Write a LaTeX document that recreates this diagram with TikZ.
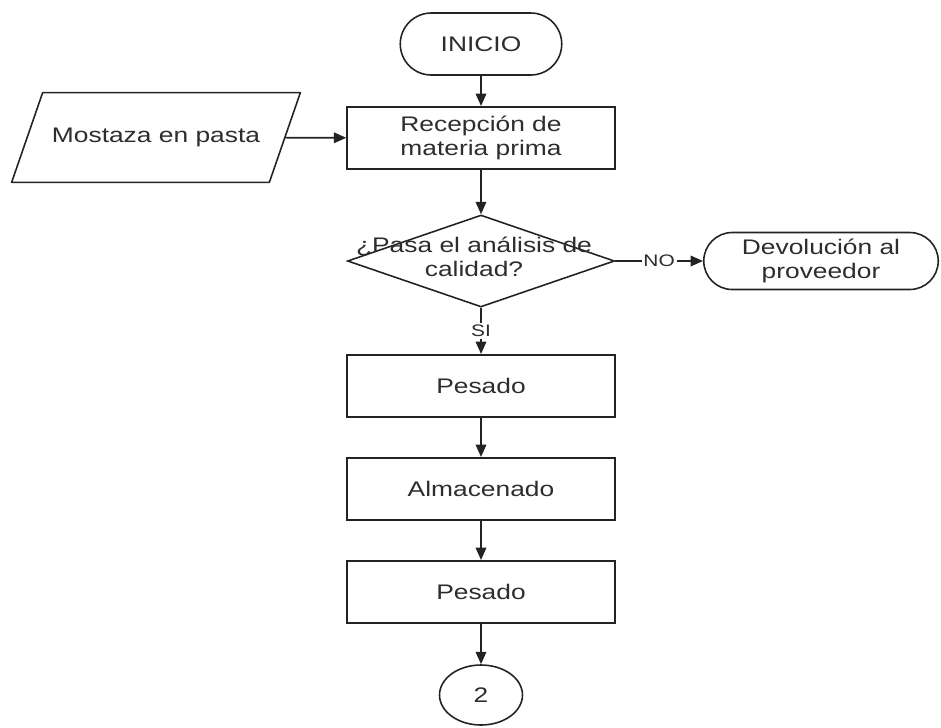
\documentclass[tikz,border=0pt]{standalone}
\usepackage{fontspec}
\setmainfont{Liberation Sans}[FakeStretch=1.25]
\usepackage{tikz}
\usetikzlibrary{arrows.meta,shapes.geometric,shapes.misc,positioning}
\definecolor{trazo}{RGB}{35,35,35}
\definecolor{texto}{RGB}{45,45,45}

\begin{document}
\begin{tikzpicture}[
  proc/.style={draw=trazo, line width=0.9pt, minimum width=5.36cm,
    minimum height=1.25cm, align=center, text=texto,
    font=\fontsize{12}{13.8}\selectfont},
  term/.style={draw=trazo, line width=0.9pt, rounded rectangle, inner sep=1pt,
    align=center, text=texto, font=\fontsize{12}{13.8}\selectfont},
  entrada/.style={minimum width=5.14cm, minimum height=1.78cm,
    text=texto, font=\fontsize{12}{13.8}\selectfont},
  borde/.style={line width=0.9pt, trazo, line join=round},
  decision/.style={draw=trazo, line width=0.9pt, diamond, inner sep=0pt,
    minimum width=5.34cm, minimum height=1.84cm},
  conector/.style={draw=trazo, line width=0.9pt, ellipse, minimum width=1.66cm,
    minimum height=1.2cm, text=texto, font=\fontsize{12}{13.8}\selectfont},
  arr/.style={-{Triangle[length=7pt,width=6pt]}, line width=0.9pt, trazo},
  etiq/.style={fill=white, inner sep=1pt, text=texto,
    font=\fontsize{9.5}{10}\selectfont}
]
  \useasboundingbox (0,0) rectangle (18.82,-14.54);

  % Main column
  \node[term, minimum width=3.3cm, minimum height=1.24cm] (inicio) at (9.62,-0.88) {INICIO};
  \node[proc] (recep) at (9.62,-2.76) {Recepción de\\materia prima};
  \node[decision] (calidad) at (9.62,-5.22) {};
  \node[align=center, text=texto, font=\fontsize{12}{13.8}\selectfont]
    (calidadtxt) at (9.48,-5.14) {¿Pasa el análisis de\\calidad?};
  \node[term, minimum width=4.76cm, minimum height=1.14cm] (devol) at (16.42,-5.22)
    {Devolución al\\proveedor};
  \node[proc] (pesado1) at (9.62,-7.72) {Pesado};
  \node[proc] (almacen) at (9.62,-9.78) {Almacenado};
  \node[proc] (pesado2) at (9.62,-11.84) {Pesado};
  \node[conector] (pag2) at (9.62,-13.9) {2};

  % Input (parallelogram)
  \node[entrada] (mostaza) at (3.12,-2.75) {Mostaza en pasta};
  \draw[borde] ([xshift=-0.31cm]mostaza.south west) -- ([xshift=0.31cm]mostaza.north west)
    -- ([xshift=0.31cm]mostaza.north east) -- ([xshift=-0.31cm]mostaza.south east) -- cycle;

  % Flow
  \draw[arr] (inicio) -- (recep);
  \draw[arr] (mostaza) -- (recep);
  \draw[arr] (recep) -- (calidad);
  \draw[arr] (calidad) -- node[etiq] {NO} (devol);
  \draw[arr] (calidad) -- node[etiq] {SI} (pesado1);
  \draw[arr] (pesado1) -- (almacen);
  \draw[arr] (almacen) -- (pesado2);
  \draw[arr] (pesado2) -- (pag2);
\end{tikzpicture}
\end{document}
